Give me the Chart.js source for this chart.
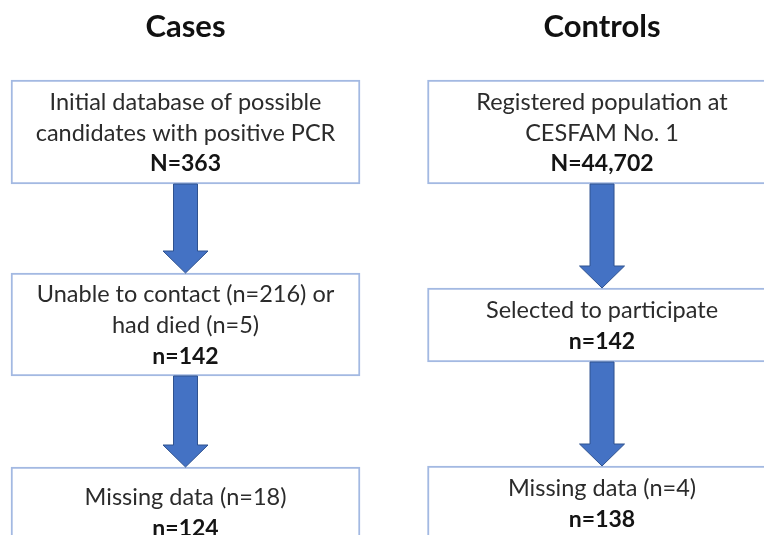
<!DOCTYPE html>
<html>
<head>
<meta charset="utf-8">
<script src="https://cdn.jsdelivr.net/npm/chart.js@4.4.1/dist/chart.umd.min.js"></script>
<style>
    html, body { margin: 0; padding: 0; background: #fff; }
    #wrap { width: 764px; height: 535px; }
</style>
</head>
<body>
<div id="wrap"><canvas id="flowChart"></canvas></div>
<script>
// data
const groups = ['Cases', 'Controls'];
const casesSteps = [
    ['Initial database of possible', 'candidates with positive PCR'],
    ['Unable to contact (n=216) or', 'had died (n=5)'],
    ['Missing data (n=18)']
];
const casesCounts = [363, 142, 124];
const controlsSteps = [
    ['Registered population at', 'CESFAM No. 1'],
    ['Selected to participate'],
    ['Missing data (n=4)']
];
const controlsCounts = [44702, 142, 138];
const countPrefix = ['N', 'n', 'n'];

// layout: vertical extent of each box on the y scale (0 = top of the page)
const casesSpans = [[80, 184], [273, 376], [467, 557]];
const controlsSpans = [[80, 184], [288, 362], [466, 540]];
const titleRow = 27;

const steps = [casesSteps, controlsSteps];
const counts = [casesCounts, controlsCounts];

const datasets = casesSpans.map((span, i) => ({
    label: 'Step ' + (i + 1),
    data: [
        { x: 0, y: casesSpans[i] },
        { x: 1, y: controlsSpans[i] }
    ],
    backgroundColor: '#ffffff',
    borderColor: '#a3b9e2',
    borderWidth: 2,
    borderSkipped: false,
    grouped: false,
    barThickness: 349
}));

const flowText = {
    id: 'flowText',
    afterDatasetsDraw(chart) {
        const ctx = chart.ctx;
        const xs = chart.scales.x, ys = chart.scales.y;
        ctx.save();
        ctx.textAlign = 'center';
        ctx.textBaseline = 'middle';

        // column titles
        ctx.fillStyle = '#111';
        ctx.font = 'bold 31px Lato, "Open Sans", sans-serif';
        groups.forEach((g, j) => {
            ctx.fillText(g, xs.getPixelForValue(j), ys.getPixelForValue(titleRow));
        });

        const lineH = 31;
        // arrows between consecutive boxes
        for (let i = 0; i < datasets.length - 1; i++) {
            const upper = chart.getDatasetMeta(i).data;
            const lower = chart.getDatasetMeta(i + 1).data;
            groups.forEach((g, j) => {
                const a = upper[j], b = lower[j];
                const cx = a.x;
                const y0 = Math.max(a.y, a.base);
                const y1 = Math.min(b.y, b.base);
                const shaftW = 24, headW = 45, headL = 22;
                ctx.beginPath();
                ctx.moveTo(cx - shaftW / 2, y0);
                ctx.lineTo(cx + shaftW / 2, y0);
                ctx.lineTo(cx + shaftW / 2, y1 - headL);
                ctx.lineTo(cx + headW / 2, y1 - headL);
                ctx.lineTo(cx, y1);
                ctx.lineTo(cx - headW / 2, y1 - headL);
                ctx.lineTo(cx - shaftW / 2, y1 - headL);
                ctx.closePath();
                ctx.fillStyle = '#4472c4';
                ctx.fill();
                ctx.lineWidth = 1;
                ctx.strokeStyle = '#2f528f';
                ctx.stroke();
            });
        }

        // box texts
        datasets.forEach((ds, i) => {
            chart.getDatasetMeta(i).data.forEach((bar, j) => {
                const top = Math.min(bar.y, bar.base);
                const bottom = Math.max(bar.y, bar.base);
                const lines = steps[j][i];
                const n = lines.length + 1;
                const mid = (top + bottom) / 2 + 1;
                const first = mid - (n - 1) * lineH / 2;
                ctx.fillStyle = '#2b2b2b';
                ctx.font = '23.5px Lato, "Open Sans", sans-serif';
                lines.forEach((t, k) => ctx.fillText(t, bar.x, first + k * lineH));
                ctx.fillStyle = '#141414';
                ctx.font = 'bold 23px Lato, "Open Sans", sans-serif';
                ctx.fillText(countPrefix[i] + '=' + counts[j][i].toLocaleString('en-US'), bar.x, first + (n - 1) * lineH);
            });
        });
        ctx.restore();
    }
};

new Chart(document.getElementById('flowChart'), {
    type: 'bar',
    data: { datasets: datasets },
    options: {
        responsive: true,
        maintainAspectRatio: false,
        animation: false,
        events: [],
        layout: { padding: 0 },
        plugins: { legend: { display: false }, tooltip: { enabled: false } },
        scales: {
            x: { type: 'linear', display: false, offset: false, min: -0.4454, max: 1.3889 },
            y: { type: 'linear', display: false, reverse: true, min: 0, max: 535 }
        }
    },
    plugins: [flowText]
});
</script>
</body>
</html>
